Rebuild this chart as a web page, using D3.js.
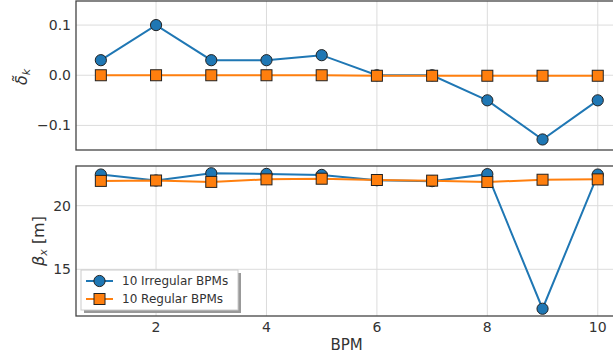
<!DOCTYPE html>
<html><head><meta charset="utf-8">
<script src="https://cdn.jsdelivr.net/npm/d3@7"></script>
<style>body{margin:0;background:#fff}svg{display:block;font-family:"DejaVu Sans",sans-serif}</style>
</head><body><svg id="c" width="613" height="358"></svg>
<script>
const bpms = [1,2,3,4,5,6,7,8,9,10];
const deltaIrregular = [0.03,0.10,0.03,0.03,0.04,0.0,0.0,-0.05,-0.128,-0.05];
const deltaRegular   = [0.0,0.0,0.0,0.0,0.0,-0.001,-0.001,-0.001,-0.001,-0.001];
const betaIrregular  = [22.45,21.98,22.55,22.5,22.42,22.0,21.93,22.48,11.9,22.45];
const betaRegular    = [21.95,21.98,21.87,22.07,22.12,22.02,21.97,21.86,22.04,22.07];
const xTicks = [2,4,6,8,10];
const deltaTicks = [0.1,0.0,-0.1];
const betaTicks = [20,15];
const seriesNames = ["10 Irregular BPMs","10 Regular BPMs"];
const colors = ["#1f77b4","#ff7f0e"];

const svg = d3.select("#c");
const L = 76, R = 622.6;
const x = d3.scaleLinear().domain([0.55,10.45]).range([L,R]);
const top1 = {y0:1, y1:150};
const top2 = {y0:166, y1:316};
const y1 = d3.scaleLinear().domain([-0.149,0.148]).range([top1.y1, top1.y0]);
const y2 = d3.scaleLinear().domain([11.33,23.12]).range([top2.y1, top2.y0]);
const txt = "#333";
const gridC = "#dcdcdc";

function panel(p, y, yt, fmt, dataA, dataB, showX){
  const g = svg.append("g");
  g.selectAll(".gx").data(xTicks).enter().append("line")
    .attr("x1",d=>x(d)).attr("x2",d=>x(d)).attr("y1",p.y0).attr("y2",p.y1)
    .attr("stroke",gridC).attr("stroke-width",1);
  g.selectAll(".gy").data(yt).enter().append("line")
    .attr("x1",L).attr("x2",R).attr("y1",d=>y(d)).attr("y2",d=>y(d))
    .attr("stroke",gridC).attr("stroke-width",1);
  g.selectAll(".ty").data(yt).enter().append("text")
    .attr("x",L-5).attr("y",d=>y(d)).attr("dy","0.35em").attr("text-anchor","end")
    .attr("font-size",14).attr("fill",txt).text(fmt);
  if(showX){
    g.selectAll(".tx").data(xTicks).enter().append("text")
      .attr("x",d=>x(d)).attr("y",p.y1+16).attr("text-anchor","middle")
      .attr("font-size",14).attr("fill",txt).text(d=>d);
  }
  const line = d3.line().x((d,i)=>x(bpms[i])).y(d=>y(d));
  const clip = "clip"+p.y0;
  svg.append("clipPath").attr("id",clip).append("rect").attr("x",L).attr("y",p.y0-8).attr("width",R-L).attr("height",p.y1-p.y0+16);
  const d = svg.append("g").attr("clip-path",`url(#${clip})`);
  d.append("path").datum(dataA).attr("d",line).attr("fill","none").attr("stroke",colors[0]).attr("stroke-width",2);
  d.selectAll(".ca").data(dataA).enter().append("circle")
    .attr("cx",(v,i)=>x(bpms[i])).attr("cy",v=>y(v)).attr("r",5.6)
    .attr("fill",colors[0]).attr("stroke","#222").attr("stroke-width",1);
  d.append("path").datum(dataB).attr("d",line).attr("fill","none").attr("stroke",colors[1]).attr("stroke-width",2);
  d.selectAll(".sb").data(dataB).enter().append("rect")
    .attr("x",(v,i)=>x(bpms[i])-5.5).attr("y",v=>y(v)-5.5).attr("width",11).attr("height",11)
    .attr("fill",colors[1]).attr("stroke","#222").attr("stroke-width",1);
  svg.append("rect").attr("x",L).attr("y",p.y0).attr("width",R-L).attr("height",p.y1-p.y0)
    .attr("fill","none").attr("stroke","#444").attr("stroke-width",1.3);
}
panel(top1,y1,deltaTicks,d=>d===0?"0.0":(d<0?"\u2212"+Math.abs(d).toFixed(1):d.toFixed(1)),deltaIrregular,deltaRegular,false);
panel(top2,y2,betaTicks,d=>d,betaIrregular,betaRegular,true);

const yl1 = svg.append("text").attr("transform","translate(27,77) rotate(-90)").attr("text-anchor","middle")
  .attr("font-size",16).attr("fill",txt);
yl1.append("tspan").attr("font-style","italic").text("\u03b4\u0303");
yl1.append("tspan").attr("font-style","italic").attr("font-size",11).attr("dy",3).text("k");
const yl2 = svg.append("text").attr("transform","translate(44,241) rotate(-90)").attr("text-anchor","middle")
  .attr("font-size",16).attr("fill",txt);
yl2.append("tspan").attr("font-style","italic").text("\u03b2");
yl2.append("tspan").attr("font-style","italic").attr("font-size",11).attr("dy",3).text("x");
yl2.append("tspan").attr("dy",-3).text(" [m]");

svg.append("text").attr("x",x(5.45)).attr("y",350).attr("text-anchor","middle")
  .attr("font-size",15).attr("fill",txt).text("BPM");

const lg = svg.append("g");
lg.append("rect").attr("x",84).attr("y",273).attr("width",157).attr("height",40).attr("fill","#999");
lg.append("rect").attr("x",81).attr("y",270).attr("width",157).attr("height",40).attr("fill","#fff").attr("stroke","#ccc").attr("stroke-width",1);
seriesNames.forEach((n,i)=>{
  const yy = 281 + i*18;
  lg.append("line").attr("x1",86).attr("x2",113).attr("y1",yy).attr("y2",yy).attr("stroke",colors[i]).attr("stroke-width",2);
  if(i===0) lg.append("circle").attr("cx",99.5).attr("cy",yy).attr("r",5.6).attr("fill",colors[0]).attr("stroke","#222");
  else lg.append("rect").attr("x",94).attr("y",yy-5.5).attr("width",11).attr("height",11).attr("fill",colors[1]).attr("stroke","#222");
  lg.append("text").attr("x",122).attr("y",yy).attr("dy","0.35em").attr("font-size",12).attr("fill",txt).text(n);
});
</script></body></html>
